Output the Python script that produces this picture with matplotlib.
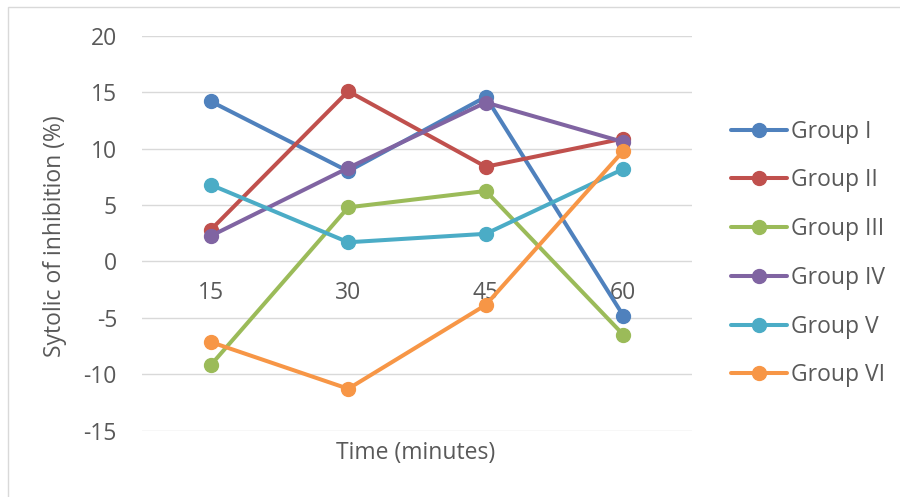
import matplotlib
matplotlib.use('Agg')
import matplotlib.pyplot as plt
from matplotlib.patches import Rectangle

plt.rcParams['font.family'] = ['Open Sans', 'DejaVu Sans']
plt.rcParams['axes.unicode_minus'] = False

times = ["15", "30", "45", "60"]
groups = ["Group I", "Group II", "Group III", "Group IV", "Group V", "Group VI"]
group_1 = [14.2, 8.0, 14.6, -4.8]
group_2 = [2.8, 15.1, 8.4, 10.9]
group_3 = [-9.2, 4.8, 6.25, -6.5]
group_4 = [2.26, 8.3, 14.1, 10.6]
group_5 = [6.8, 1.7, 2.45, 8.2]
group_6 = [-7.15, -11.3, -3.86, 9.8]
series = [group_1, group_2, group_3, group_4, group_5, group_6]
colors = ["#4F81BD", "#C0504D", "#9BBB59", "#8064A2", "#4BACC6", "#F79646"]

text_col = "#595959"
grid_col = "#D9D9D9"
fs = 16.5

fig = plt.figure(figsize=(9, 4.97), dpi=100)
fig.patches.append(Rectangle((8/900, -0.1), 1.2, 1 - 7/497 + 0.1, transform=fig.transFigure,
                             fill=False, edgecolor=grid_col, linewidth=1))

ax = fig.add_axes([142/900, 1 - 430.5/497, 550/900, 394.5/497])

x = list(range(len(times)))
for vals, name, c in zip(series, groups, colors):
    ax.plot(x, vals, '-o', color=c, lw=2.9, markersize=10, label=name,
            solid_capstyle='round', zorder=3)

ax.set_xlim(-0.5, 3.5)
ax.set_ylim(-15, 20)
ax.set_yticks(range(-15, 21, 5))
ax.grid(axis='y', color=grid_col, lw=1)
ax.set_axisbelow(True)

for s in ['top', 'right', 'left']:
    ax.spines[s].set_visible(False)
# category labels sit on the zero line
ax.spines['bottom'].set_position(('data', 0))
ax.spines['bottom'].set_visible(False)
ax.set_xticks(x)
ax.set_xticklabels(times)
ax.tick_params(axis='x', length=0, pad=14, labelsize=fs, labelcolor=text_col)
ax.tick_params(axis='y', length=0, pad=18, labelsize=fs, labelcolor=text_col)

fig.text(416/900, 1 - 453/497, "Time (minutes)", ha='center', va='center',
         fontsize=fs, color=text_col)
fig.text(55/900, 1 - 236/497, "Sytolic of inhibition (%)", ha='center', va='center',
         rotation=90, fontsize=fs, color=text_col)

leg = fig.legend(loc='center left', bbox_to_anchor=(731/900, 1 - 253.5/497),
                 frameon=False, fontsize=fs, handlelength=2.45, handletextpad=0.17,
                 labelspacing=1.08, borderpad=0, borderaxespad=0)
for t in leg.get_texts():
    t.set_color(text_col)

fig.savefig("out.png", dpi=100)
